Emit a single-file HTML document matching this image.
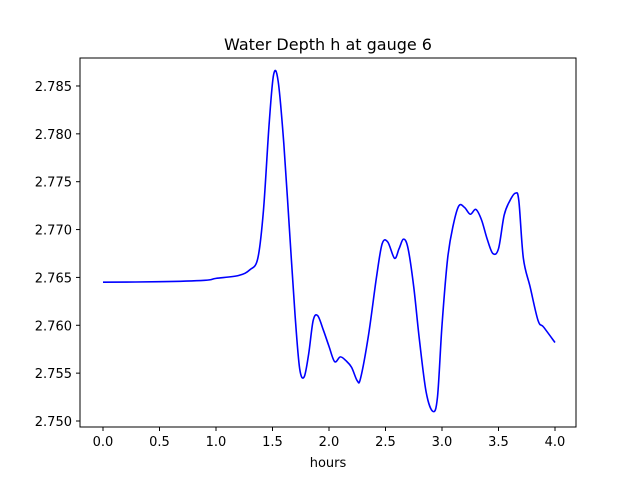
<!DOCTYPE html>
<html><head><meta charset="utf-8"><style>
body{margin:0;background:#fff;font-family:"Liberation Sans","DejaVu Sans",sans-serif;}
svg text{font-family:"DejaVu Sans","Liberation Sans",sans-serif;font-size:13px;fill:#000;}
</style></head><body>
<svg id="chart" width="640" height="480" viewBox="0 0 640 480" xmlns="http://www.w3.org/2000/svg">
<rect width="640" height="480" fill="#fff"/>
<text x="328" y="50" text-anchor="middle" style="font-size:16px">Water Depth h at gauge 6</text>
<g id="xticks"></g>
<g id="yticks"></g>
<path id="line" fill="none" stroke="#0000ff" stroke-width="1.6"/>
<rect x="80" y="58" width="496" height="369" fill="none" stroke="#000" stroke-width="1"/>
<text x="328" y="467" text-anchor="middle">hours</text>
</svg>
<script>
const hours=[0,0.5,0.9,1.0,1.2,1.3,1.37,1.42,1.47,1.51,1.55,1.6,1.65,1.7,1.74,1.78,1.82,1.86,1.9,1.95,2.0,2.05,2.1,2.15,2.2,2.25,2.28,2.35,2.42,2.47,2.52,2.58,2.62,2.66,2.7,2.75,2.8,2.86,2.92,2.96,3.0,3.05,3.1,3.15,3.2,3.25,3.3,3.35,3.4,3.45,3.5,3.55,3.6,3.65,3.68,3.72,3.78,3.85,3.9,4.0];
const depth=[2.7645,2.76455,2.7647,2.7649,2.7652,2.7658,2.767,2.772,2.781,2.7862,2.7855,2.779,2.770,2.761,2.7555,2.7546,2.757,2.7605,2.761,2.7595,2.7578,2.7562,2.7567,2.7563,2.7556,2.7542,2.7545,2.759,2.765,2.7685,2.7687,2.767,2.768,2.769,2.768,2.764,2.7585,2.753,2.751,2.7525,2.76,2.767,2.7705,2.7725,2.7723,2.7716,2.7721,2.771,2.769,2.7675,2.768,2.7715,2.773,2.7738,2.773,2.767,2.764,2.7605,2.7598,2.7582];
const xTickLabels=["0.0","0.5","1.0","1.5","2.0","2.5","3.0","3.5","4.0"];
const yTickLabels=["2.750","2.755","2.760","2.765","2.770","2.775","2.780","2.785"];
const X=h=>103+h*113;
const Y=v=>421-(v-2.75)/0.005*47.86;
const NS="http://www.w3.org/2000/svg";
const xg=document.getElementById('xticks'), yg=document.getElementById('yticks');
xTickLabels.forEach(t=>{
  const x=X(parseFloat(t));
  const l=document.createElementNS(NS,'line');
  
  
  l.setAttribute('x1',x);l.setAttribute('x2',x);l.setAttribute('y1',427);l.setAttribute('y2',431);l.setAttribute('stroke','#000');
  xg.appendChild(l);
  const tx=document.createElementNS(NS,'text');
  
  
  tx.setAttribute('x',x);tx.setAttribute('y',446);tx.setAttribute('text-anchor','middle');tx.textContent=t;
  xg.appendChild(tx);
});
yTickLabels.forEach(t=>{
  const y=Y(parseFloat(t));
  const l=document.createElementNS(NS,'line');
  
  
  l.setAttribute('x1',76);l.setAttribute('x2',80);l.setAttribute('y1',y);l.setAttribute('y2',y);l.setAttribute('stroke','#000');
  yg.appendChild(l);
  const tx=document.createElementNS(NS,'text');
  
  
  tx.setAttribute('x',72);tx.setAttribute('y',y+5);tx.setAttribute('text-anchor','end');tx.textContent=t;
  yg.appendChild(tx);
});
// Catmull-Rom smoothing
const P=hours.map((h,i)=>[X(h),Y(depth[i])]);
let d='M'+P[0][0]+','+P[0][1];
for(let i=0;i<P.length-1;i++){
  const p0=P[Math.max(i-1,0)],p1=P[i],p2=P[i+1],p3=P[Math.min(i+2,P.length-1)];
  const c1=[p1[0]+(p2[0]-p0[0])/6,p1[1]+(p2[1]-p0[1])/6];
  const c2=[p2[0]-(p3[0]-p1[0])/6,p2[1]-(p3[1]-p1[1])/6];
  d+=' C'+c1[0]+','+c1[1]+' '+c2[0]+','+c2[1]+' '+p2[0]+','+p2[1];
}
document.getElementById('line').setAttribute('d',d);
</script>
</body></html>
